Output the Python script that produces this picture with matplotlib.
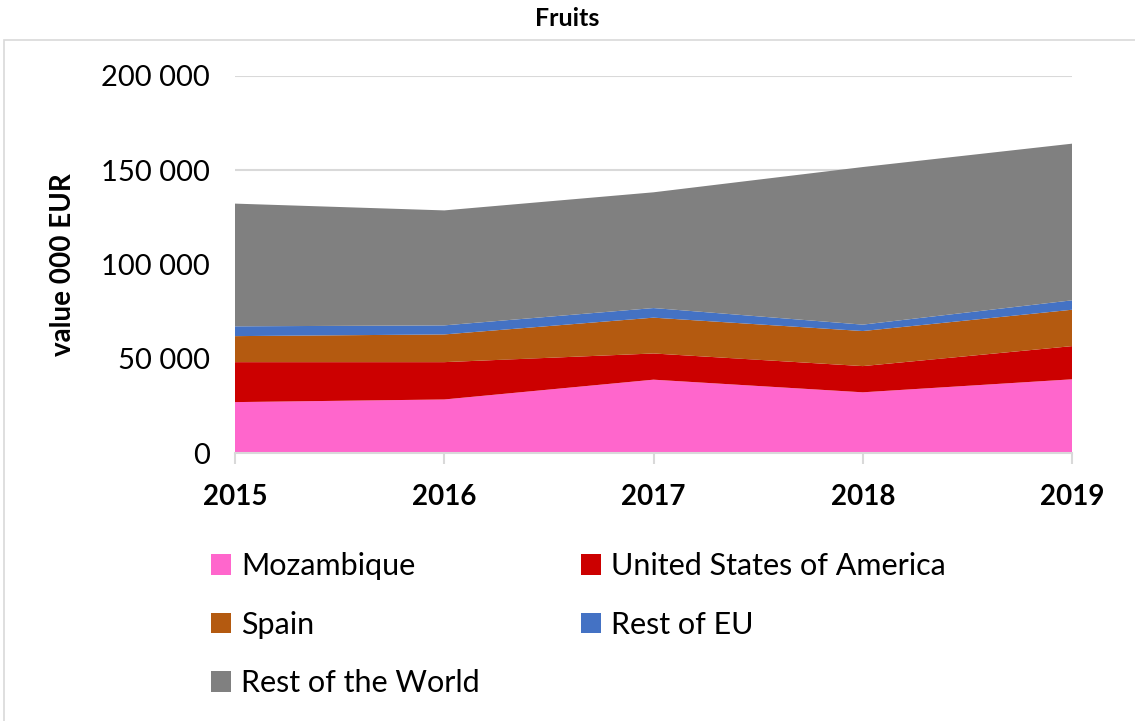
import matplotlib
matplotlib.use("Agg")
import matplotlib.pyplot as plt
from matplotlib.patches import Rectangle
from matplotlib.ticker import FuncFormatter

years = ["2015", "2016", "2017", "2018", "2019"]
series_names = ["Mozambique", "United States of America", "Spain", "Rest of EU", "Rest of the World"]
mozambique = [27000, 28400, 38900, 32200, 39100]
usa = [21200, 19800, 13900, 13900, 17600]
spain = [13800, 14700, 19000, 18600, 19300]
rest_eu = [5200, 4800, 5100, 3400, 5000]
rest_world = [65100, 61000, 61400, 83600, 83100]
colors = ["#FF66CC", "#CC0000", "#B45A10", "#4472C4", "#808080"]

plt.rcParams['font.family'] = ['Lato', 'DejaVu Sans']

fig = plt.figure(figsize=(11.35, 7.21), dpi=100)
fig.patches.append(Rectangle((4/1135, -0.01), 1.1, 1 - 40/721 + 0.01, transform=fig.transFigure,
                             fill=False, edgecolor="#D9D9D9", linewidth=1.2))
ax = fig.add_axes([235/1135, 1 - 453/721, (1072 - 235)/1135, (453 - 76)/721])

x = list(range(len(years)))
polys = ax.stackplot(x, mozambique, usa, spain, rest_eu, rest_world,
                     colors=colors, labels=series_names, linewidth=0, zorder=2)

ax.set_xlim(0, 4)
ax.set_ylim(0, 200000)
ax.set_yticks([0, 50000, 100000, 150000, 200000])
ax.yaxis.set_major_formatter(FuncFormatter(lambda v, p: f"{int(v):,}".replace(",", " ")))
ax.grid(axis='y', color="#D9D9D9", linewidth=1.5, zorder=0)
ax.set_axisbelow(True)
ax.set_xticks(x)
ax.set_xticklabels(years, fontsize=20, fontweight='bold')
for s in ["top", "right", "left"]:
    ax.spines[s].set_visible(False)
ax.spines["bottom"].set_color("#D9D9D9")
ax.spines["bottom"].set_linewidth(1.5)
ax.spines["bottom"].set_zorder(3)
ax.tick_params(axis='x', length=8, width=1.5, color="#D9D9D9", pad=14, direction='out')
ax.tick_params(axis='y', length=0, labelsize=21, pad=18)
ax.set_ylabel("value 000 EUR", fontsize=20, fontweight='bold', labelpad=18)

fig.text(0.5, 1 - 19/721, "Fruits", ha='center', va='center', fontsize=18, fontweight='bold')

order = [0, 2, 4, 1, 3]
handles = [polys[i] for i in order]
labels = [series_names[i] for i in order]
fig.legend(handles, labels, loc='upper left', bbox_to_anchor=(211/1135, 1 - 552/721),
           ncol=2, frameon=False, fontsize=22, handlelength=0.66, handleheight=0.66,
           handletextpad=0.33, labelspacing=1.0, columnspacing=3.3, borderpad=0,
           borderaxespad=0)

fig.savefig("out.png", dpi=100)
